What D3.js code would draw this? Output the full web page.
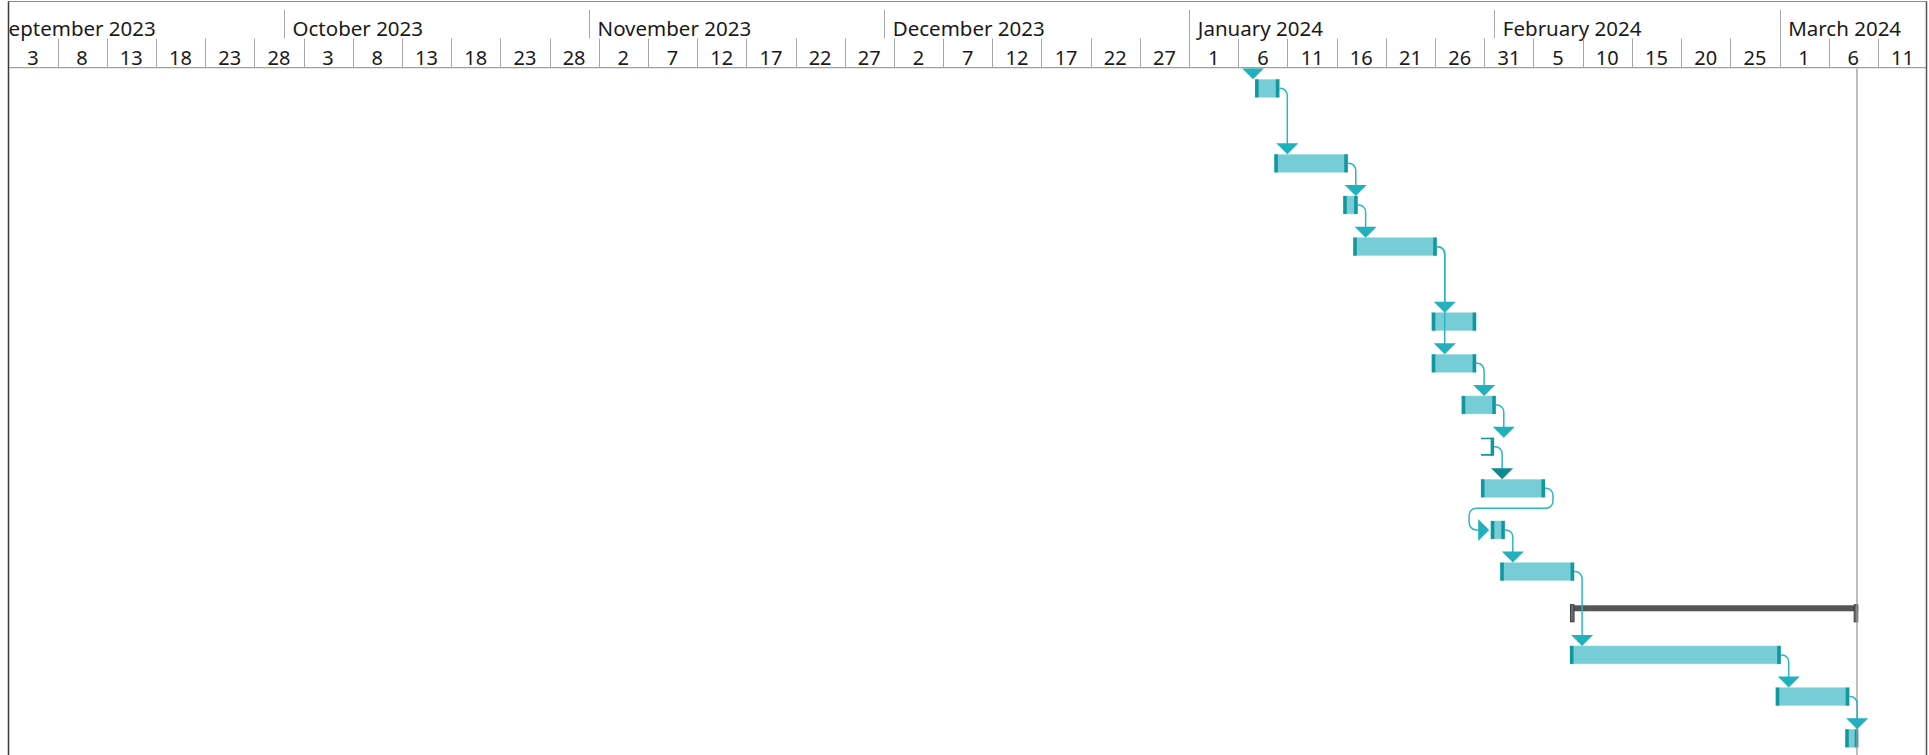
<!DOCTYPE html>
<html><head><meta charset="utf-8">
<script src="https://cdn.jsdelivr.net/npm/d3@7/dist/d3.min.js"></script>
<style>
html,body{margin:0;padding:0;background:#fff;overflow:hidden}
svg{display:block;font-family:"Noto Sans",sans-serif}
</style></head><body>
<svg id="chart" width="1929" height="755"></svg>
<script>
// ---------------- data ----------------
const axisStart = "2023-09-03T00:00";
const axisEnd   = "2024-03-16T00:00";
const statusDate = "2024-03-08T21:00";

// task 0 is the predecessor scrolled out of view above the header
const taskNames  = ["Task 0","Task 1","Task 2","Task 3","Task 4","Task 5","Task 6","Task 7",
                    "Task 8","Task 9","Task 10","Task 11","Phase","Task 13","Task 14","Task 15"];
const taskStarts = ["2024-01-02T00:00","2024-01-07T17:00","2024-01-09T16:00","2024-01-16T16:00",
                    "2024-01-17T16:30","2024-01-25T16:00","2024-01-25T16:00","2024-01-28T17:00",
                    "2024-01-30T16:00","2024-01-30T16:00","2024-01-31T16:00","2024-02-01T15:00",
                    "2024-02-08T17:00","2024-02-08T17:00","2024-02-29T15:00","2024-03-07T16:30"];
const taskEnds   = ["2024-01-06T16:30","2024-01-10T04:00","2024-01-17T03:00","2024-01-18T03:00",
                    "2024-01-26T04:00","2024-01-30T04:00","2024-01-30T04:00","2024-02-01T04:00",
                    "2024-02-01T00:00","2024-02-06T04:00","2024-02-02T02:00","2024-02-09T03:00",
                    "2024-03-09T00:00","2024-03-01T03:00","2024-03-08T02:00","2024-03-09T00:00"];
const taskKinds  = ["task","task","task","task","task","task","task","task",
                    "bracket","task","task","task","summary","task","task","task"];
const taskRowLines = [1,2,1,1,2,1,1,1,1,1,1,1,1,1,1,1];

const linkFrom = [0,1,2,3,4,4,6,7,8,9,10,11,13,14];
const linkTo   = [1,2,3,4,5,6,7,8,9,10,11,13,14,15];
const linkCritical = [false,false,false,false,false,false,false,false,true,false,false,false,false,false];

// ---------------- layout ----------------
const W = 1929, H = 755;
const frameL = 8, frameR = 1927, frameT = 1.5;
const headerBottom = 68.33;
const parse = d3.utcParse("%Y-%m-%dT%H:%M");
const x = d3.scaleUtc()
  .domain([parse(axisStart), parse(axisEnd)])
  .range([8.3, 8.3 + 195 * 9.84]);

const lineUnit = 33.33, rowPad = 0.25;
const rowUnits = taskRowLines.map(n => n + rowPad);
const cum = [0, ...d3.cumsum(rowUnits)];
const y = d3.scaleLinear().domain([0, 1]).range([headerBottom - rowUnits[0] * lineUnit, headerBottom - rowUnits[0] * lineUnit + lineUnit]);
const barOff = 11, barH = 18, capW = 3.5;

const tasks = taskNames.map((name, i) => ({
  name, i, start: parse(taskStarts[i]), end: parse(taskEnds[i]), kind: taskKinds[i],
  top: y(cum[i]) + barOff
}));

const svg = d3.select("#chart");
const defs = svg.append("defs");
defs.append("clipPath").attr("id", "bodyClip").append("rect")
  .attr("x", frameL).attr("y", headerBottom).attr("width", frameR - frameL).attr("height", H - headerBottom);
defs.append("clipPath").attr("id", "headClip").append("rect")
  .attr("x", frameL + 0.5).attr("y", 0).attr("width", frameR - frameL - 1).attr("height", headerBottom);

// ---------------- header ----------------
const head = svg.append("g").attr("clip-path", "url(#headClip)");
const d0 = parse(axisStart), d1 = parse(axisEnd);
const months = d3.utcMonth.range(d3.utcMonth.floor(d0), d1);
head.selectAll("line.month").data(months).join("line")
  .attr("x1", d => Math.round(x(d)) + 0.5).attr("x2", d => Math.round(x(d)) + 0.5)
  .attr("y1", 10).attr("y2", 38.5)
  .attr("stroke", "#a8a8a8").attr("stroke-width", 1);
head.selectAll("text.month").data(months).join("text")
  .attr("x", d => x(d) + 8.7).attr("y", 36)
  .attr("font-size", 20.5).attr("fill", "#1a1a1a")
  .text(d3.utcFormat("%B %Y"));

const days = d3.utcDay.range(d0, d1, 5);
head.selectAll("line.day").data(days).join("line")
  .attr("x1", d => Math.round(x(d)) + 0.5).attr("x2", d => Math.round(x(d)) + 0.5)
  .attr("y1", 38.5).attr("y2", 67.5)
  .attr("stroke", "#a8a8a8").attr("stroke-width", 1);
head.selectAll("text.day").data(days).join("text")
  .attr("x", d => (x(d) + x(d3.utcDay.offset(d, 5))) / 2).attr("y", 65)
  .attr("text-anchor", "middle").attr("font-size", 20).attr("fill", "#1a1a1a")
  .text(d3.utcFormat("%-d"));

svg.append("line").attr("x1", frameL).attr("x2", frameR).attr("y1", 67.6).attr("y2", 67.6)
  .attr("stroke", "#a0a0a0").attr("stroke-width", 1.4);

// ---------------- body ----------------
const body = svg.append("g").attr("clip-path", "url(#bodyClip)");
const gBars = body.append("g");

const fillC = "#76cdd5", capC = "#13979f", triC = "#20b1bd", lineC = "#2cb6c2", critC = "#0e8a92";

tasks.forEach(t => {
  const x0 = x(t.start), x1 = x(t.end), yt = t.top;
  const g = gBars.append("g");
  if (t.kind === "task") {
    g.append("rect").attr("x", x0).attr("y", yt).attr("width", x1 - x0).attr("height", barH)
      .attr("fill", fillC).attr("stroke", "#a9e0e5").attr("stroke-width", 0.6);
    g.append("rect").attr("x", x0).attr("y", yt).attr("width", capW).attr("height", barH).attr("fill", capC);
    g.append("rect").attr("x", x1 - capW).attr("y", yt).attr("width", capW).attr("height", barH).attr("fill", capC);
  } else if (t.kind === "bracket") {
    g.append("path")
      .attr("d", `M${x0},${yt + 0.8}H${x1 - 1}M${x0},${yt + barH - 0.8}H${x1 - 1}`)
      .attr("stroke", capC).attr("stroke-width", 1.6).attr("fill", "none");
    g.append("rect").attr("x", x1 - capW).attr("y", yt).attr("width", capW).attr("height", barH).attr("fill", capC);
  } else if (t.kind === "summary") {
    g.append("rect").attr("x", x0).attr("y", yt + 1).attr("width", x1 - x0).attr("height", 6).attr("fill", "#555555");
    [x0, x1 - 4.5].forEach(cx => g.append("rect").attr("x", cx + 0.4).attr("y", yt + 0.4)
      .attr("width", 3.7).attr("height", barH - 0.8)
      .attr("fill", "#6a6a6a").attr("stroke", "#2e2e2e").attr("stroke-width", 0.8));
  }
});

// status line
body.append("line").attr("x1", x(parse(statusDate))).attr("x2", x(parse(statusDate)))
  .attr("y1", headerBottom).attr("y2", H).attr("stroke", "#9a9a9a").attr("stroke-width", 1.3);

// ---------------- dependency connectors ----------------
const gLinks = body.append("g");
const off = 8, r = 7, tri = 11;
linkFrom.forEach((fi, k) => {
  const a = tasks[fi], b = tasks[linkTo[k]];
  const xe = x(a.end), ym = a.top + barH / 2;
  const xs = x(b.start);
  const col = linkCritical[k] ? critC : triC;
  const p = d3.path();
  const loop = xs < xe - 3 * (x(d3.utcDay.offset(d0, 1)) - x(d0));
  if (!loop) {
    const cx = xe + off;
    p.moveTo(xe, ym);
    p.arcTo(cx, ym, cx, ym + r, r);
    p.lineTo(cx, b.top - tri + 1);
    gLinks.append("path").attr("d", p.toString()).attr("fill", "none")
      .attr("stroke", lineC).attr("stroke-width", 1.5);
    gLinks.append("path")
      .attr("d", `M${cx - tri},${b.top - tri}L${cx + tri},${b.top - tri}L${cx},${b.top}Z`)
      .attr("fill", col);
  } else {
    const ymid = b.top + barH / 2;
    const xr = xe + off, yb = ym + 20, xl = xs - 21.7, tipX = xs - 1.7;
    p.moveTo(xe, ym);
    p.arcTo(xr, ym, xr, yb, r);
    p.arcTo(xr, yb, xl, yb, r);
    p.arcTo(xl, yb, xl, ymid, r);
    p.arcTo(xl, ymid, tipX, ymid, r);
    p.lineTo(tipX - tri + 1, ymid);
    gLinks.append("path").attr("d", p.toString()).attr("fill", "none")
      .attr("stroke", lineC).attr("stroke-width", 1.5);
    gLinks.append("path")
      .attr("d", `M${tipX - tri},${ymid - tri}L${tipX - tri},${ymid + tri}L${tipX},${ymid}Z`)
      .attr("fill", col);
  }
});

// ---------------- frame ----------------
svg.append("line").attr("x1", frameL).attr("x2", frameR).attr("y1", frameT).attr("y2", frameT)
  .attr("stroke", "#8a8a8a").attr("stroke-width", 1.2);
svg.append("line").attr("x1", frameL + 0.5).attr("x2", frameL + 0.5).attr("y1", frameT).attr("y2", H)
  .attr("stroke", "#3a3a3a").attr("stroke-width", 1.5);
svg.append("line").attr("x1", frameR - 0.5).attr("x2", frameR - 0.5).attr("y1", frameT).attr("y2", H)
  .attr("stroke", "#555555").attr("stroke-width", 1.5);
</script>
</body></html>
